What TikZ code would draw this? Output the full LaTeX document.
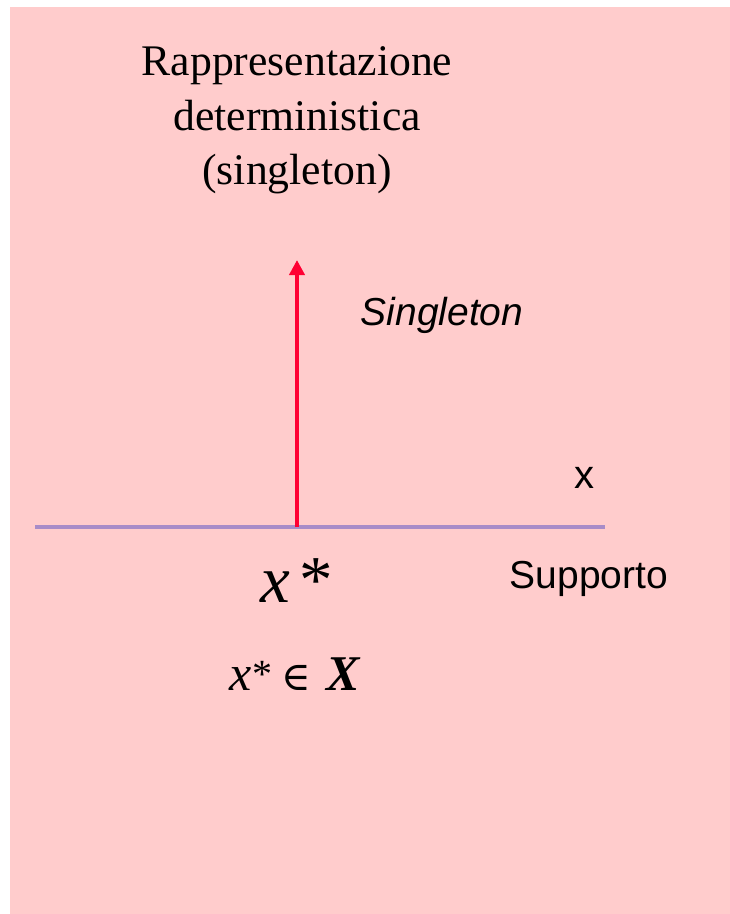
\documentclass[tikz,border=0pt]{standalone}
\usepackage{fontspec}
\setmainfont{Liberation Serif}
\setsansfont{Liberation Sans}
\newfontfamily\symbolfont{DejaVu Serif}
\usetikzlibrary{arrows.meta}
\definecolor{bgpink}{HTML}{FFCCCC}
\definecolor{axispurple}{HTML}{A88CC8}
\definecolor{arrowred}{HTML}{FF0033}
\begin{document}
\begin{tikzpicture}[x=1pt,y=-1pt,
  every node/.style={inner sep=0pt, outer sep=0pt},
  titletext/.style={font=\fontsize{43.7}{55}\selectfont, anchor=base},
  sanslabel/.style={font=\sffamily\fontsize{39}{47}\selectfont, anchor=base},
  formula/.style={anchor=base west}]
\useasboundingbox (0,0) rectangle (730,914);
\fill[bgpink] (10,7) rectangle (730,914);
% title
\node[titletext] (t1) at (297,75) {Rappresentazione};
\node[titletext] (t2) at (297,130) {deterministica};
\node[titletext] (t3) at (297,184) {(singleton)};
% axis
\coordinate (axL) at (35,527);
\coordinate (axR) at (605,527);
\draw[axispurple, line width=4pt] (axL) -- (axR);
% singleton arrow
\coordinate (xs) at (297,527);
\coordinate (tip) at (297,260);
\draw[arrowred, line width=4pt, -{Triangle[width=15pt,length=15pt]}] (xs) -- (tip);
% labels
\node[sanslabel, font=\sffamily\itshape\fontsize{39}{47}\selectfont] (sing) at (442,325) {Singleton};
\node[sanslabel, font=\sffamily\fontsize{40}{48}\selectfont] (xlab) at (584,488) {x};
\node[sanslabel] (supp) at (589,588) {Supporto};
\node[formula] (xstar) at (260,602) {\fontsize{67}{80}\selectfont\itshape x\upshape\hspace{10pt}*};
\node[formula] (member) at (229,690) {{\fontsize{50}{60}\selectfont\itshape x}\hspace{1pt}\raisebox{3pt}{\fontsize{40}{48}\selectfont *}\hspace{9pt}{\symbolfont\fontsize{40}{48}\selectfont ∈}\hspace{16pt}{\fontsize{50}{60}\selectfont\bfseries\itshape X}};
\end{tikzpicture}
\end{document}
